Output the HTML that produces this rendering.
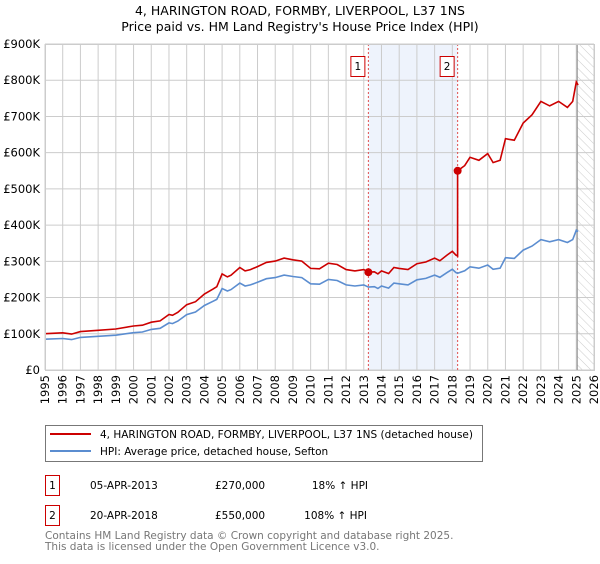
<!DOCTYPE html>
<html><head><meta charset="utf-8"><style>
body{margin:0;background:#fff;width:600px;height:560px;overflow:hidden;font-family:"DejaVu Sans","Liberation Sans",sans-serif}
svg text{font-family:"DejaVu Sans","Liberation Sans",sans-serif}
</style></head><body>
<svg id="c" width="600" height="560" xmlns="http://www.w3.org/2000/svg">
<text x="300" y="15" text-anchor="middle" font-size="12.5" fill="#000">4, HARINGTON ROAD, FORMBY, LIVERPOOL, L37 1NS</text>
<text x="300" y="31" text-anchor="middle" font-size="12.5" fill="#000">Price paid vs. HM Land Registry's House Price Index (HPI)</text>
<g id="plot"></g>
<rect x="45.5" y="425.5" width="437" height="36" fill="#fff" stroke="#777"/>
<line x1="50" y1="434" x2="91" y2="434" stroke="#cc0000" stroke-width="2"/>
<text x="100" y="438" font-size="10.5">4, HARINGTON ROAD, FORMBY, LIVERPOOL, L37 1NS (detached house)</text>
<line x1="50" y1="451" x2="91" y2="451" stroke="#5b8dd0" stroke-width="2"/>
<text x="100" y="455" font-size="10.5">HPI: Average price, detached house, Sefton</text>
<g font-size="10.5">
<rect x="45.5" y="475.5" width="14" height="20" fill="#fff" stroke="#cc0000"/>
<text x="52.5" y="489" text-anchor="middle">1</text>
<text x="90" y="489">05-APR-2013</text>
<text x="215" y="489">£270,000</text>
<text x="368" y="489" text-anchor="end">18% ↑ HPI</text>
<rect x="45.5" y="505.5" width="14" height="20" fill="#fff" stroke="#cc0000"/>
<text x="52.5" y="519" text-anchor="middle">2</text>
<text x="90" y="519">20-APR-2018</text>
<text x="215" y="519">£550,000</text>
<text x="367" y="519" text-anchor="end">108% ↑ HPI</text>
</g>
<text x="45" y="539" font-size="10.5" fill="#777">Contains HM Land Registry data © Crown copyright and database right 2025.</text>
<text x="45" y="550" font-size="10.5" fill="#777">This data is licensed under the Open Government Licence v3.0.</text>
</svg>
<script>
const hpiYears=[1995,1996,1996.5,1997,1998,1999,2000,2000.5,2001,2001.5,2002,2002.2,2002.5,2003,2003.5,2004,2004.5,2004.7,2005,2005.3,2005.5,2006,2006.3,2006.6,2007,2007.5,2008,2008.5,2009,2009.5,2010,2010.5,2011,2011.5,2012,2012.5,2013,2013.26,2013.6,2013.8,2014,2014.4,2014.7,2015,2015.5,2016,2016.5,2017,2017.3,2017.7,2018,2018.2,2018.3,2018.7,2019,2019.5,2020,2020.3,2020.7,2021,2021.5,2022,2022.5,2023,2023.5,2024,2024.5,2024.8,2025,2025.1];
const hpiValues=[85,87,84,90,93,96,103,105,112,115,130,128,135,153,160,178,190,195,225,218,222,240,232,235,242,252,255,262,258,255,238,237,250,247,235,232,235,229,230,225,232,226,240,238,235,249,253,262,256,269,278,269,267,274,285,281,290,278,281,310,308,331,342,360,354,360,352,360,386,382];
const saleYears=[2013.26,2018.3];
const salePrices=[270,550];
const saleLabels=["1","2"];
const yTicks=[0,100,200,300,400,500,600,700,800,900];
const yTickLabels=["£0","£100K","£200K","£300K","£400K","£500K","£600K","£700K","£800K","£900K"];
const xTicks=[1995,1996,1997,1998,1999,2000,2001,2002,2003,2004,2005,2006,2007,2008,2009,2010,2011,2012,2013,2014,2015,2016,2017,2018,2019,2020,2021,2022,2023,2024,2025,2026];

const X0=45,X1=594,Y0=370,Y1=44;
const xs=t=>X0+(t-1995)/(2026-1995)*(X1-X0);
const ys=v=>Y0-v/900*(Y0-Y1);
const NS="http://www.w3.org/2000/svg";
const g=document.getElementById('plot');
function mk(tag,attrs,parent){const e=document.createElementNS(NS,tag);for(const k in attrs)e.setAttribute(k,attrs[k]);(parent||g).appendChild(e);return e;}

// shading between sales
let sh=mk('rect',{x:xs(saleYears[0]),y:Y1,width:xs(saleYears[1])-xs(saleYears[0]),height:Y0-Y1,fill:'#eef3fc'});


// hatch
const defs=mk('defs',{});
const pat=mk('pattern',{id:'hatch',width:6,height:6,patternUnits:'userSpaceOnUse',patternTransform:'rotate(-45)'},defs);
mk('line',{x1:0,y1:0,x2:0,y2:6,stroke:'#ccc','stroke-width':1},pat);
let ht=mk('rect',{x:xs(2025.05),y:Y1,width:X1-xs(2025.05),height:Y0-Y1,fill:'url(#hatch)'});


// grid
yTicks.forEach((v,i)=>{
  const l=mk('line',{x1:X0,x2:X1,y1:ys(v),y2:ys(v),stroke:'#ccc','stroke-width':1});
  
  
  const t=mk('text',{x:40,y:ys(v)+4,'text-anchor':'end','font-size':'11.5',fill:'#000'});
  t.textContent=yTickLabels[i];
  
  
});
xTicks.forEach(yr=>{
  const l=mk('line',{x1:xs(yr),x2:xs(yr),y1:Y1,y2:Y0,stroke:'#ccc','stroke-width':1});
  
  
  const t=mk('text',{x:0,y:0,'text-anchor':'end','font-size':'11.5',fill:'#000',transform:`translate(${xs(yr)+4},${Y0+5}) rotate(-90)`});
  t.textContent=yr;
  
  
});
let vl=mk('line',{x1:xs(2025.05),x2:xs(2025.05),y1:Y1,y2:Y0,stroke:'#888','stroke-width':1});


// sale vertical lines and labels
saleYears.forEach((yr,i)=>{
  const l=mk('line',{x1:xs(yr),x2:xs(yr),y1:Y1,y2:Y0,stroke:'#e05050','stroke-width':1,'stroke-dasharray':'2,2'});
  
  
  const r=mk('rect',{x:xs(yr)-17.5,y:56.5,width:14,height:20,fill:'#fff',stroke:'#cc0000'});
  
  
  const t=mk('text',{x:xs(yr)-10.5,y:70,'text-anchor':'middle','font-size':'10.5'});
  t.textContent=saleLabels[i];
  
  
});
// HPI interpolation for ratios
function hpiAt(t){for(let i=0;i<hpiYears.length-1;i++){if(t>=hpiYears[i]&&t<=hpiYears[i+1]){const f=(t-hpiYears[i])/(hpiYears[i+1]-hpiYears[i]);return hpiValues[i]+f*(hpiValues[i+1]-hpiValues[i]);}}return hpiValues[hpiValues.length-1];}
const k1=salePrices[0]/hpiAt(saleYears[0]);
const k2=salePrices[1]/hpiAt(saleYears[1]);
// blue
let bp=hpiYears.map((t,i)=>(i?'L':'M')+xs(t).toFixed(1)+','+ys(hpiValues[i]).toFixed(1)).join('');
let bl=mk('path',{d:bp,fill:'none',stroke:'#5b8dd0','stroke-width':1.6});


// red
let rp='';
hpiYears.forEach((t,i)=>{
  if(t<saleYears[1]) rp+=(rp?'L':'M')+xs(t).toFixed(1)+','+ys(hpiValues[i]*k1).toFixed(1);
  else{
    if(i>0&&hpiYears[i-1]<saleYears[1]){rp+='L'+xs(saleYears[1]).toFixed(1)+','+ys(hpiAt(saleYears[1])*k1).toFixed(1);rp+='L'+xs(saleYears[1]).toFixed(1)+','+ys(salePrices[1]).toFixed(1);}
    rp+='L'+xs(t).toFixed(1)+','+ys(hpiValues[i]*k2).toFixed(1);
  }
});
let rl=mk('path',{d:rp,fill:'none',stroke:'#cc0000','stroke-width':1.6});


saleYears.forEach((yr,i)=>{
  const c=mk('circle',{cx:xs(yr),cy:ys(salePrices[i]),r:4,fill:'#cc0000'});
  
  
});
let bd=mk('rect',{x:X0+0.5,y:Y1+0.5,width:X1-X0,height:Y0-Y1,fill:'none',stroke:'#ccc'});


</script>
</body></html>
